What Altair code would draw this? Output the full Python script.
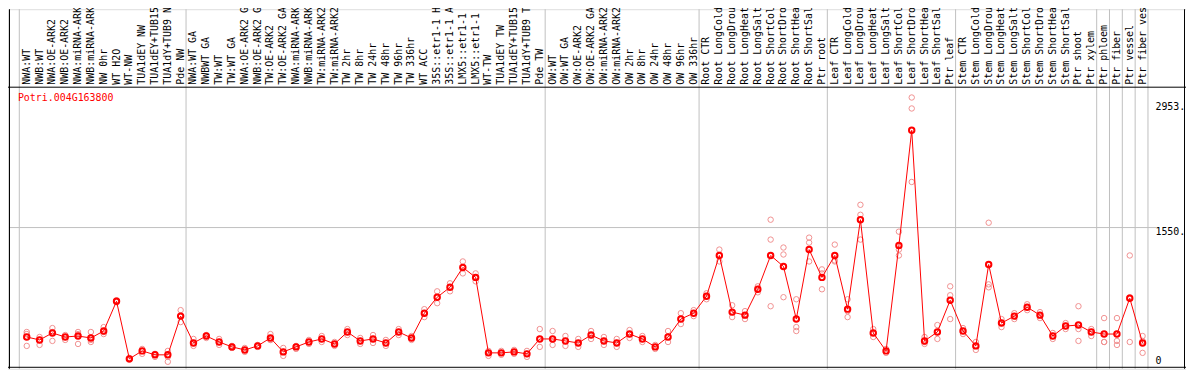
import altair as alt
import pandas as pd

labels = [
    "NWA:WT", "NWB:WT", "NWA:OE-ARK2", "NWB:OE-ARK2", "NWA:miRNA-ARK2", "NWB:miRNA-ARK2",
    "NW 0hr", "WT H2O", "WT-NW", "TUA1dEY NW", "TUA1dEY+TUB15 NW", "TUA1dY+TUB9 NW", "Pde NW",
    "NWA:WT GA", "NWBWT GA", "TW:WT", "TW:WT GA", "NWA:OE-ARK2 GA", "NWB:OE-ARK2 GA",
    "TW:OE-ARK2", "TW:OE-ARK2 GA", "NWA:miRNA-ARK2 GA", "NWB:miRNA-ARK2 GA", "TW:miRNA-ARK2",
    "TW:miRNA-ARK2 GA", "TW 2hr", "TW 8hr", "TW 24hr", "TW 48hr", "TW 96hr", "TW 336hr",
    "WT ACC", "35S::etr1-1 H2O", "35S::etr1-1 ACC", "LMX5::etr1-1 H2O", "LMX5::etr1-1 ACC",
    "WT-TW", "TUA1dEY TW", "TUA1dEY+TUB15 TW", "TUA1dY+TUB9 TW", "Pde TW",
    "OW:WT", "OW:WT GA", "OW:OE-ARK2", "OW:OE-ARK2 GA", "OW:miRNA-ARK2", "OW:miRNA-ARK2 GA",
    "OW 2hr", "OW 8hr", "OW 24hr", "OW 48hr", "OW 96hr", "OW 336hr",
    "Root CTR", "Root LongCold", "Root LongDrought", "Root LongHeat", "Root LongSalt",
    "Root ShortCold", "Root ShortDrought", "Root ShortHeat", "Root ShortSalt", "Ptr root",
    "Leaf CTR", "Leaf LongCold", "Leaf LongDrought", "Leaf LongHeat", "Leaf LongSalt",
    "Leaf ShortCold", "Leaf ShortDrought", "Leaf ShortHeat", "Leaf ShortSalt", "Ptr leaf",
    "Stem CTR", "Stem LongCold", "Stem LongDrought", "Stem LongHeat", "Stem LongSalt",
    "Stem ShortCold", "Stem ShortDrought", "Stem ShortHeat", "Stem ShortSalt", "Ptr shoot",
    "Ptr xylem",
    "Ptr phloem", "Ptr fiber", "Ptr vessel", "Ptr fiber vessel",
]

means = [
    323, 290, 368, 323, 334, 312, 390, 724, 78, 167, 123, 123, 557,
    256, 334, 267, 212, 178, 223, 312, 156, 212, 267, 301, 245, 379, 279, 301, 256, 379, 312,
    590, 769, 880, 1103, 991, 145, 145, 156, 134, 301,
    301, 279, 256, 345, 279, 256, 356, 301, 212, 323, 524, 590,
    780, 1237, 602, 568, 858, 1237, 1114, 524, 1303, 991,
    1237, 635, 1638, 368, 167, 1348, 2640, 279, 379, 735,
    390, 223, 1136, 479, 557, 657, 568, 334, 446, 457, 379,
    356, 356, 757, 256,
]

rep_a = [
    379, 323, 423, 345, 379, 379, 434, 735, 89, 189, 134, 167, 624,
    301, 345, 301, 223, 200, 234, 356, 200, 223, 290, 334, 267, 412, 312, 345, 290, 412, 334,
    635, 835, 925, 1170, 1036, 167, 167, 178, 167, 412,
    390, 334, 301, 390, 323, 301, 401, 334, 234, 390, 590, 624,
    813, 1303, 679, 613, 891, 1638, 1326, 746, 1437, 1081,
    1359, 746, 1805, 412, 189, 1504, 3008, 323, 457, 891,
    423, 267, 1604, 524, 590, 690, 602, 368, 479, 668, 412,
    535, 535, 1237, 334,
]
rep_b = [
    356, 290, 379, 323, 356, 290, 379, 724, 78, 167, 123, 100, 557,
    256, 334, 267, 212, 178, 223, 290, 156, 212, 267, 301, 245, 379, 279, 301, 256, 379, 312,
    590, 769, 880, 1103, 991, 145, 145, 156, 134, 301,
    301, 279, 256, 345, 279, 256, 356, 301, 212, 323, 524, 590,
    780, 1237, 602, 568, 858, 1415, 1248, 434, 1381, 1036,
    1170, 613, 1693, 368, 167, 1303, 2885, 267, 379, 791,
    390, 223, 913, 479, 557, 657, 568, 334, 446, 412, 379,
    267, 279, 769, 279,
]
rep_c = [
    223, 234, 279, 290, 245, 267, 356, 713, 67, 134, 100, 45, 490,
    223, 312, 234, 200, 156, 212, 290, 111, 189, 245, 267, 223, 345, 245, 256, 223, 345, 290,
    546, 702, 835, 1036, 947, 111, 123, 134, 100, 212,
    234, 223, 212, 301, 234, 212, 312, 267, 189, 267, 468, 557,
    746, 1170, 546, 524, 824, 668, 769, 390, 1170, 858,
    1181, 546, 1415, 323, 145, 1237, 2061, 245, 301, 524,
    356, 178, 880, 434, 524, 624, 535, 301, 412, 279, 334,
    267, 234, 267, 145,
]

group_starts = [0, 13, 41, 53, 63, 73, 84, 85, 86, 87, 88]
grid_values = [1550]
y_tick_values = [2953, 1550]
y_tick_texts = ["2953.", "1550."]
zero_text = "0"
title_text = "Potri.004G163800"

W, H = 1186, 362
FONT = "DejaVu Sans Mono"

xs = alt.Scale(domain=[-1.4615, 90.3846], nice=False, zero=False)
ys = alt.Scale(domain=[0, 3000], range=[359, 89.6], nice=False, zero=False)

n = len(labels)
df = pd.DataFrame({"i": list(range(n)), "label": labels, "mean": means})
reps = pd.DataFrame({
    "i": list(range(n)) * 3,
    "v": rep_a + rep_b + rep_c,
})
seps = pd.DataFrame({"pos": [g - 0.58 for g in group_starts]})
grid = pd.DataFrame({"v": grid_values})
yt = pd.DataFrame({"v": y_tick_values, "t": y_tick_texts, "x": [88.0] * len(y_tick_values)})
zt = pd.DataFrame({"v": [0], "t": [zero_text], "x": [88.0]})
tt = pd.DataFrame({"t": [title_text], "x": [-0.69]})

X = lambda f: alt.X(f, scale=xs, axis=None)
Y = lambda f: alt.Y(f, scale=ys, axis=None)

sep_layer = alt.Chart(seps).mark_rule(color="#c0c0c0", strokeWidth=1).encode(
    x=X("pos:Q"), y=alt.value(0), y2=alt.value(H)
)
grid_layer = alt.Chart(grid).mark_rule(color="#c0c0c0", strokeWidth=1).encode(
    y=Y("v:Q"), x=alt.value(1), x2=alt.value(1156)
)
frame = pd.DataFrame({"k": ["a"]})
hline = alt.Chart(frame).mark_rule(color="black", strokeWidth=1).encode(
    x=alt.value(0), x2=alt.value(W), y=alt.value(78.5)
)
bline = alt.Chart(frame).mark_rule(color="black", strokeWidth=1).encode(
    x=alt.value(0), x2=alt.value(W), y=alt.value(360.5)
)
lline = alt.Chart(frame).mark_rule(color="black", strokeWidth=1).encode(
    x=alt.value(1.5), y=alt.value(0), y2=alt.value(H)
)
rline = alt.Chart(frame).mark_rule(color="black", strokeWidth=1).encode(
    x=alt.value(1184.5), y=alt.value(0), y2=alt.value(H)
)

rep_layer = alt.Chart(reps).mark_point(
    shape="circle", filled=False, color="#f09090", strokeWidth=1, size=30, opacity=1
).encode(x=X("i:Q"), y=Y("v:Q"))

line_layer = alt.Chart(df).mark_line(color="#ff0000", strokeWidth=1).encode(
    x=X("i:Q"), y=Y("mean:Q")
)
mean_layer = alt.Chart(df).mark_point(
    shape="circle", filled=False, color="#ff0000", strokeWidth=2, size=30, opacity=1
).encode(x=X("i:Q"), y=Y("mean:Q"))

label_layer = alt.Chart(df).mark_text(
    angle=270, align="left", baseline="middle", font=FONT, fontSize=10, color="black"
).encode(x=X("i:Q"), y=alt.value(76), text="label:N")

ytick_layer = alt.Chart(yt).mark_text(
    align="left", baseline="middle", font=FONT, fontSize=10, color="black", dy=5
).encode(x=X("x:Q"), y=Y("v:Q"), text="t:N")
zero_layer = alt.Chart(zt).mark_text(
    align="left", baseline="middle", font=FONT, fontSize=10, color="black", dy=-5
).encode(x=X("x:Q"), y=Y("v:Q"), text="t:N")
title_layer = alt.Chart(tt).mark_text(
    align="left", baseline="middle", font=FONT, fontSize=10, color="#ff0000"
).encode(x=X("x:Q"), y=alt.value(89), text="t:N")

chart = alt.layer(
    sep_layer, grid_layer, hline, bline, lline, rline,
    rep_layer, line_layer, mean_layer,
    label_layer, ytick_layer, zero_layer, title_layer,
).properties(
    width=W, height=H, padding=0, autosize=alt.AutoSizeParams(type="none")
).configure_view(stroke=None).configure(background="white")

chart.save("out.html", embed_options={"renderer": "svg", "actions": False})
